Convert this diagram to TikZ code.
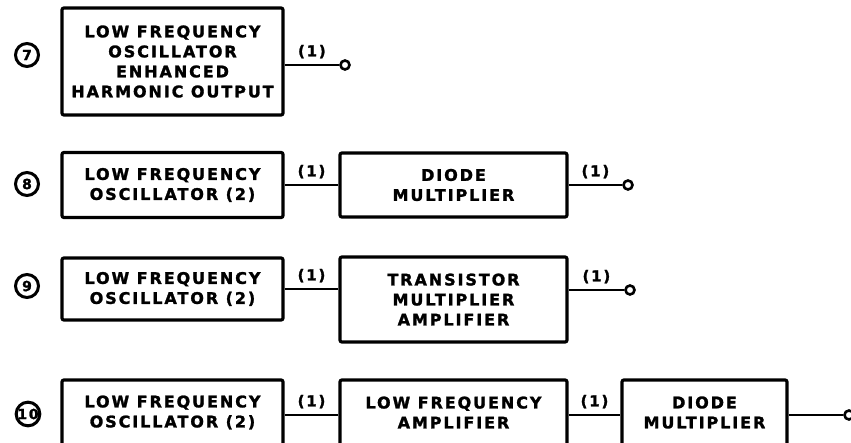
\documentclass[tikz,border=0pt]{standalone}
\usepackage{fontspec}
\newfontfamily\lettering{DejaVu Sans}[LetterSpace=12, BoldFeatures={FakeBold=1.6}]
\usetikzlibrary{positioning}
\tikzset{
  block/.style={draw, line width=3.2pt, rounded corners=2pt, align=center, inner sep=0pt,
    font=\lettering\bfseries\fontsize{16}{20}\selectfont, minimum width=221pt},
  num/.style={draw, circle, line width=3pt, minimum size=23pt, inner sep=0pt,
    font=\lettering\bfseries\fontsize{14}{14}\selectfont},
  term/.style={draw, circle, line width=2.6pt, fill=white, minimum size=9pt, inner sep=0pt},
  lab/.style={font=\lettering\bfseries\fontsize{15}{15}\selectfont, above=2pt, midway},
  wire/.style={line width=2.8pt}
}
\begin{document}
\begin{tikzpicture}[x=1pt, y=-1pt]
\useasboundingbox (0,0) rectangle (851,443);
\node[num] (n7) at (27,55) {7};
\node[block, minimum height=107pt] (b7) at (172.5,61.5) {LOW FREQUENCY\\OSCILLATOR\\ENHANCED\\HARMONIC OUTPUT};
\node[term] (o7) at (345,65) {};
\draw[wire] (b7.east |- o7) -- (o7) node[lab] {(1)};
\node[num] (n8) at (27,184) {8};
\node[block, minimum height=65pt] (b8a) at (172.5,185) {LOW FREQUENCY\\OSCILLATOR (2)};
\node[block, minimum height=64pt, minimum width=227pt] (b8b) at (453.5,185) {DIODE\\MULTIPLIER};
\node[term] (o8) at (628,185) {};
\draw[wire] (b8a.east) -- (b8a.east -| b8b.west) node[lab] {(1)};
\draw[wire] (b8b.east) -- (o8) node[lab] {(1)};
\node[num] (n9) at (27,286) {9};
\node[block, minimum height=62pt] (b9a) at (172.5,289) {LOW FREQUENCY\\OSCILLATOR (2)};
\node[block, minimum height=85pt, minimum width=227pt] (b9b) at (453.5,299.5) {TRANSISTOR\\MULTIPLIER\\AMPLIFIER};
\node[term] (o9) at (630,290) {};
\draw[wire] (b9a.east) -- (b9a.east -| b9b.west) node[lab] {(1)};
\draw[wire] (b9b.east |- o9) -- (o9) node[lab] {(1)};
\node[num] (n10) at (28,414) {10};
\node[block, minimum height=65pt] (b10a) at (172.5,412.5) {LOW FREQUENCY\\OSCILLATOR (2)};
\node[block, minimum height=65pt, minimum width=227pt] (b10b) at (453.5,412.5) {LOW FREQUENCY\\AMPLIFIER};
\node[block, minimum height=65pt, minimum width=165pt] (b10c) at (704.5,412.5) {DIODE\\MULTIPLIER};
\node[term] (o10) at (849,415) {};
\draw[wire] (b10a.east |- 0,415) -- (b10b.west |- 0,415) node[lab] {(1)};
\draw[wire] (b10b.east |- 0,415) -- (b10c.west |- 0,415) node[lab] {(1)};
\draw[wire] (b10c.east |- o10) -- (o10);
\end{tikzpicture}
\end{document}
